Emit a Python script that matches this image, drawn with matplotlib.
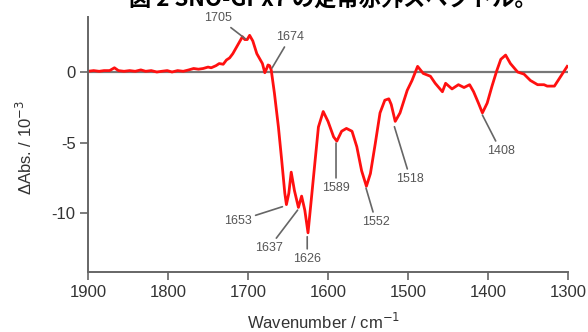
import numpy as np
import matplotlib
matplotlib.use('Agg')
import matplotlib.pyplot as plt

plt.rcParams['font.family'] = ['Liberation Sans', 'Noto Sans CJK JP', 'DejaVu Sans']
plt.rcParams['axes.unicode_minus'] = False

# spectrum (wavenumber / cm-1, dAbs / 10^-3)
wavenumber = [1900, 1893, 1886, 1880, 1873, 1867, 1862, 1855, 1848, 1841,
              1834, 1828, 1821, 1814, 1808, 1801, 1795, 1788, 1781, 1774,
              1768, 1762, 1756, 1750, 1746, 1740, 1736, 1731, 1727, 1723,
              1719, 1714, 1710, 1707, 1704, 1701, 1698, 1694, 1689, 1685,
              1682, 1679, 1677, 1675, 1673, 1671, 1667, 1662, 1658, 1654,
              1652, 1649, 1646, 1642, 1637, 1633, 1629, 1625, 1621, 1616,
              1612, 1606, 1600, 1593, 1589, 1583, 1577, 1570, 1564, 1558,
              1552, 1547, 1541, 1535, 1529, 1524, 1521, 1516, 1510, 1501,
              1495, 1488, 1481, 1472, 1466, 1460, 1457, 1453, 1445, 1437,
              1430, 1423, 1418, 1412, 1407, 1401, 1395, 1389, 1384, 1378,
              1372, 1363, 1355, 1347, 1338, 1330, 1326, 1317, 1309, 1301]
dabs = [0.05, 0.1, 0.05, 0.1, 0.1, 0.3, 0.1, 0.05, 0.1, 0.05,
        0.15, 0.05, 0.1, 0.0, 0.05, 0.1, 0.0, 0.1, 0.05, 0.15,
        0.25, 0.2, 0.25, 0.35, 0.3, 0.45, 0.6, 0.55, 0.85, 1.0,
        1.3, 1.8, 2.2, 2.5, 2.3, 2.3, 2.6, 2.2, 1.3, 0.9,
        0.6, -0.05, 0.2, 0.5, 0.45, 0.15, -1.5, -3.9, -6.2, -8.6,
        -9.4, -8.6, -7.1, -8.4, -9.6, -8.8, -9.8, -11.4, -9.1, -6.2,
        -3.9, -2.8, -3.5, -4.6, -4.9, -4.2, -4.0, -4.2, -5.3, -7.0,
        -8.1, -7.2, -5.1, -2.9, -2.0, -1.9, -2.3, -3.5, -2.9, -1.3,
        -0.6, 0.4, -0.1, -0.3, -0.8, -1.2, -1.4, -0.8, -1.2, -0.9,
        -1.1, -0.9, -1.4, -2.2, -2.9, -2.2, -1.0, 0.1, 0.9, 1.2,
        0.6, 0.0, -0.15, -0.6, -0.9, -0.9, -1.0, -1.0, -0.3, 0.4]

# peak labels: text, leader tip (x, y), label centre (x, y)
peak_labels = ['1705', '1674', '1653', '1637', '1626', '1589', '1552', '1518', '1408']
tip_x = [1703, 1670, 1657, 1638, 1626, 1590, 1552.5, 1517, 1407]
tip_y = [2.34, 0.28, -9.55, -9.79, -11.68, -5.04, -8.23, -3.88, -3.05]
text_x = [1737, 1647, 1713, 1674, 1626, 1590, 1540, 1497, 1384]
text_y = [3.83, 2.48, -10.57, -12.48, -13.26, -8.23, -10.64, -7.59, -5.6]

xticks = [1900, 1800, 1700, 1600, 1500, 1400, 1300]
yticks = [0, -5, -10]

fig = plt.figure(figsize=(5.88, 3.32), dpi=100)
ax = fig.add_axes([0.1497, 0.1807, 0.8163, 0.7681])

ax.axhline(0, color='#777777', lw=1.6, zorder=1)
ax.plot(wavenumber, dabs, color='#ff1010', lw=2.0, zorder=2)

for lab, tx, ty, lx, ly in zip(peak_labels, tip_x, tip_y, text_x, text_y):
    ax.annotate(lab, xy=(tx, ty), xytext=(lx, ly), ha='center', va='center',
                fontsize=9, color='#555555',
                arrowprops=dict(arrowstyle='-', color='#666666', lw=1.2,
                                shrinkA=1, shrinkB=0))

ax.set_xlim(1900, 1300)
ax.set_ylim(-14.18, 3.9)
ax.set_xticks(xticks)
ax.set_yticks(yticks)
ax.tick_params(direction='out', length=6, width=1.2, color='#666666',
               labelsize=12, labelcolor='#333333', pad=3)

for side in ['top', 'right']:
    ax.spines[side].set_visible(False)
for side in ['left', 'bottom']:
    ax.spines[side].set_color('#666666')
    ax.spines[side].set_linewidth(1.4)

ax.set_xlabel('Wavenumber / cm$^{-1}$', fontsize=12, color='#333333')
ax.set_ylabel('ΔAbs. / 10$^{-3}$', fontsize=12, color='#333333')
ax.xaxis.set_label_coords(0.49, -0.155)
ax.yaxis.set_label_coords(-0.11, 0.49)

fig.text(0.566, 0.979, '図 2 SNO-GPx7 の定常赤外スペクトル。', ha='center',
         va='baseline', fontsize=16, fontweight='bold',
         family=['Noto Sans CJK JP', 'DejaVu Sans'])

fig.savefig('out.png', dpi=100, facecolor='white')
